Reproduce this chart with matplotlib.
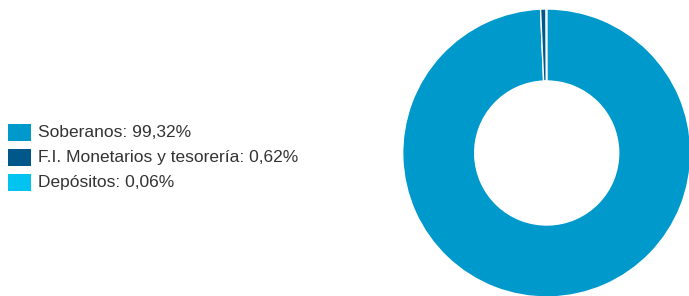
import matplotlib
matplotlib.use('Agg')
import matplotlib.pyplot as plt
from matplotlib.patches import Rectangle

labels = ['Soberanos', 'F.I. Monetarios y tesorería', 'Depósitos']
values = [99.32, 0.62, 0.06]
colors = ['#0099cc', '#00578a', '#00c3f0']

plt.rcParams['font.family'] = ['Liberation Sans', 'DejaVu Sans']

W, H = 689, 296
fig = plt.figure(figsize=(W / 100, H / 100), dpi=100)

# donut
cx, cy, r = 546.7, 153, 144
ax = fig.add_axes([(cx - r) / W, (H - cy - r) / H, 2 * r / W, 2 * r / H])
ax.pie(values, colors=colors, startangle=90, counterclock=False, radius=1,
       wedgeprops=dict(width=0.5, edgecolor='white', linewidth=1))
ax.set_xlim(-1, 1)
ax.set_ylim(-1, 1)
ax.set_aspect('equal')
ax.axis('off')

# legend, drawn by hand
row_y = [132.5, 157.5, 182]
for lab, val, col, y in zip(labels, values, colors, row_y):
    fig.patches.append(Rectangle((8 / W, (H - y - 8.5) / H), 23 / W, 17 / H,
                                 transform=fig.transFigure, facecolor=col, edgecolor='none'))
    txt = '{}: {}%'.format(lab, ('%.2f' % val).replace('.', ','))
    fig.text(38 / W, (H - y) / H, txt, fontsize=12.5, color='#333333', va='center', ha='left')

fig.savefig('out.png', dpi=100)
